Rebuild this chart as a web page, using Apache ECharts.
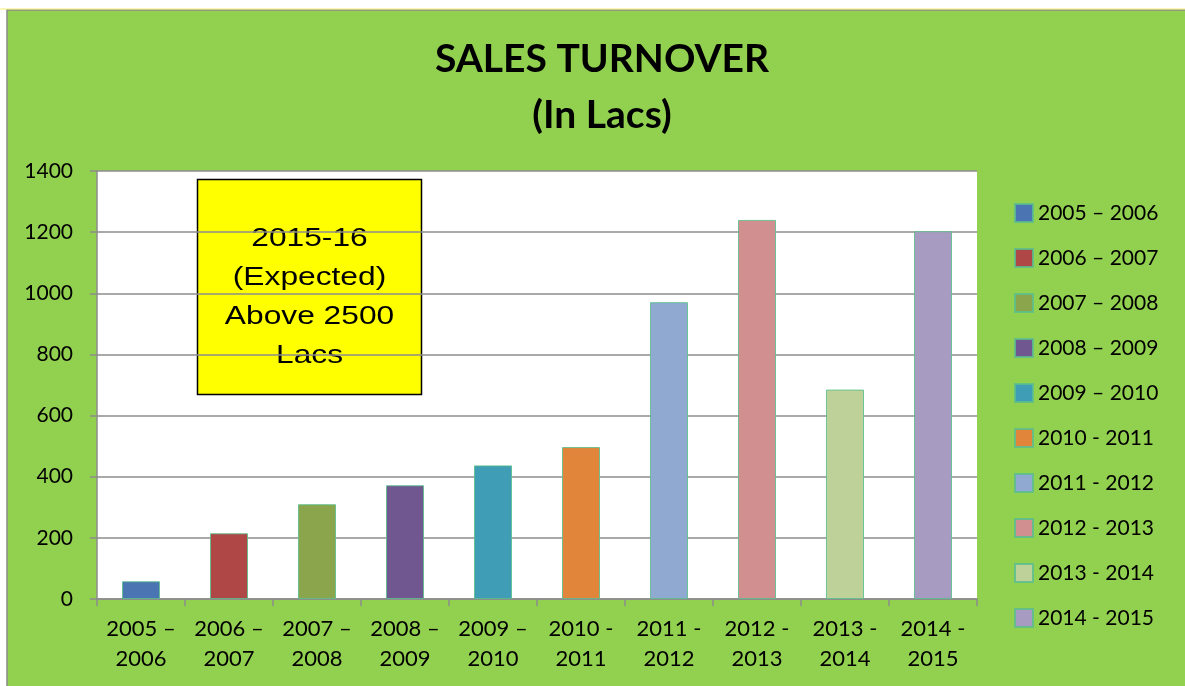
<!DOCTYPE html>
<html>
<head>
<meta charset="utf-8">
<script src="https://cdn.jsdelivr.net/npm/echarts@6/dist/echarts.min.js"></script>
<style>html,body{margin:0;padding:0;background:#fff;}#c{width:1185px;height:686px;}</style>
</head>
<body>
<div id="c"></div>
<script>
var categories = ['2005 –\n2006','2006 –\n2007','2007 –\n2008','2008 –\n2009','2009 –\n2010','2010 -\n2011','2011 -\n2012','2012 -\n2013','2013 -\n2014','2014 -\n2015'];
var legendNames = ['2005 – 2006','2006 – 2007','2007 – 2008','2008 – 2009','2009 – 2010','2010 - 2011','2011 - 2012','2012 - 2013','2013 - 2014','2014 - 2015'];
var values = [58, 215, 310, 372, 437, 497, 971, 1240, 685, 1203];
var barColors = ['#4a74b2','#b04747','#8aa54b','#70578f','#3f9db5','#e0853a','#8fa9d1','#d18f90','#bdd199','#a89bc1'];
var yTicks = {min: 0, max: 1400, interval: 200};

var series = values.map(function (v, i) {
  var data = values.map(function (_, j) { return j === i ? v : '-'; });
  return {
    name: legendNames[i],
    type: 'bar',
    stack: 'all',
    barWidth: 38,
    data: data,
    itemStyle: {
      color: barColors[i],
      borderColor: 'rgba(90,190,140,0.85)',
      borderWidth: 1
    }
  };
});

var chart = echarts.init(document.getElementById('c'));
chart.setOption({
  animation: false,
  backgroundColor: '#ffffff',
  graphic: [
    {type: 'rect', z: -100, shape: {x: 7, y: 10, width: 1200, height: 700}, style: {fill: '#92D050', stroke: '#8a8a8a', lineWidth: 1.5}},
    {type: 'line', z: -100, shape: {x1: 0, y1: 9, x2: 1185, y2: 9}, style: {stroke: '#f2f070', lineWidth: 1}},
    {type: 'text', z: 50, x: 602, y: 87, style: {text: 'SALES TURNOVER\n(In Lacs)', font: 'bold 39px Lato', fill: '#000', textAlign: 'center', textVerticalAlign: 'middle', lineHeight: 56}},
    {type: 'group', z: 100, children: [
      {type: 'rect', shape: {x: 197.5, y: 179.5, width: 224, height: 215}, style: {fill: '#ffff00', stroke: '#000', lineWidth: 1.5}},
      {type: 'text', x: 309.5, y: 297, scaleX: 1.22, style: {text: '2015-16\n(Expected)\nAbove 2500\nLacs', font: '26px "Liberation Sans"', fill: '#000', textAlign: 'center', textVerticalAlign: 'middle', lineHeight: 39}}
    ]}
  ],
  legend: {
    orient: 'vertical',
    left: 1014,
    top: 202,
    padding: 0,
    itemWidth: 18,
    itemHeight: 18,
    itemGap: 23,
    icon: 'rect',
    data: legendNames,
    textStyle: {fontFamily: 'Lato', fontSize: 21, color: '#000', lineHeight: 22}
  },
  grid: {left: 97, top: 171, right: 208, height: 428, show: true, backgroundColor: '#ffffff', borderWidth: 0},
  xAxis: {
    type: 'category',
    data: categories,
    boundaryGap: true,
    axisLine: {lineStyle: {color: '#8c8c8c', width: 1.5}},
    axisTick: {show: true, length: 7, inside: false, lineStyle: {color: '#8c8c8c', width: 1.5}},
    axisLabel: {color: '#000', fontFamily: 'Lato', fontSize: 22, lineHeight: 30, margin: 15, interval: 0}
  },
  yAxis: {
    type: 'value',
    min: yTicks.min,
    max: yTicks.max,
    interval: yTicks.interval,
    axisLine: {show: true, lineStyle: {color: '#8c8c8c', width: 1.5}},
    axisTick: {show: true, length: 7, lineStyle: {color: '#8c8c8c', width: 1.5}},
    axisLabel: {color: '#000', fontFamily: 'Lato', fontSize: 21, margin: 24, formatter: function (v) { return String(v); }},
    splitLine: {lineStyle: {color: '#8c8c8c', width: 1.5}}
  },
  series: series
});
</script>
</body>
</html>
